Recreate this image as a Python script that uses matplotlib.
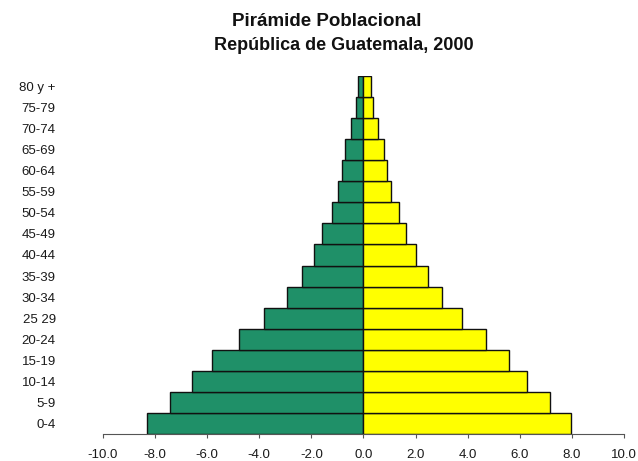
import matplotlib.pyplot as plt

plt.rcParams['font.family'] = ['Liberation Sans', 'DejaVu Sans']

grupos = ['0-4', '5-9', '10-14', '15-19', '20-24', '25 29', '30-34', '35-39',
          '40-44', '45-49', '50-54', '55-59', '60-64', '65-69', '70-74',
          '75-79', '80 y +']
# porcentajes (lado izquierdo en negativo)
izquierda = [-8.30, -7.43, -6.57, -5.80, -4.77, -3.80, -2.95, -2.37,
             -1.91, -1.60, -1.22, -0.99, -0.82, -0.69, -0.47, -0.28, -0.21]
derecha = [7.95, 7.15, 6.28, 5.59, 4.70, 3.78, 3.01, 2.47,
           2.00, 1.65, 1.35, 1.06, 0.90, 0.78, 0.55, 0.36, 0.27]
ticks_x = [-10, -8, -6, -4, -2, 0, 2, 4, 6, 8, 10]

fig = plt.figure(figsize=(6.38, 4.61), dpi=100)
ax = fig.add_axes([0.1614, 0.0586, 0.8166, 0.7766])

pos = range(len(grupos))
ax.barh(pos, izquierda, height=1.0, color='#1f9068', edgecolor='#111111', linewidth=1)
ax.barh(pos, derecha, height=1.0, color='#ffff00', edgecolor='#111111', linewidth=1)

ax.set_xlim(-10, 10)
ax.set_ylim(-0.5, len(grupos) - 0.5)
ax.set_xticks(ticks_x)
ax.set_xticklabels([f'{v:.1f}' for v in ticks_x], fontsize=9.5, color='#1a1a1a')
ax.set_yticks(list(pos))
ax.set_yticklabels(grupos, fontsize=9.5, color='#1a1a1a')
ax.tick_params(axis='y', length=0, pad=34)
ax.tick_params(axis='x', length=3, width=0.8, color='#555555', pad=8)

for s in ['top', 'right', 'left']:
    ax.spines[s].set_visible(False)
ax.spines['bottom'].set_color('#555555')
ax.spines['bottom'].set_linewidth(0.8)

fig.text(327 / 638, 1 - 22 / 461, 'Pirámide Poblacional', ha='center', va='center',
         fontsize=13.5, fontweight='bold', color='#111111')
fig.text(344 / 638, 1 - 46 / 461, 'República de Guatemala, 2000', ha='center', va='center',
         fontsize=13, fontweight='bold', color='#111111')

fig.savefig('out.png', dpi=100)
